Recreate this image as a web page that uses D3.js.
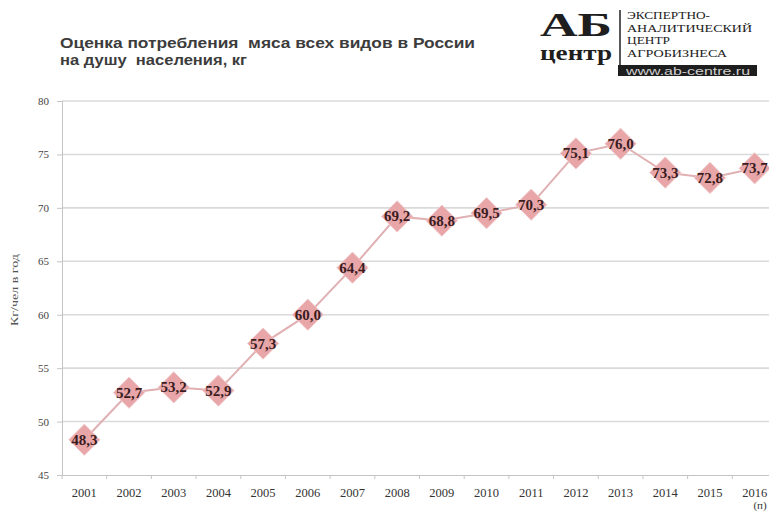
<!DOCTYPE html>
<html><head><meta charset="utf-8">
<script src="https://cdn.jsdelivr.net/npm/d3@7"></script>
<style>body{margin:0;background:#fff}svg{display:block}text{white-space:pre}</style>
</head><body>
<svg id="c" width="769" height="512"></svg>
<script>
const years = ["2001","2002","2003","2004","2005","2006","2007","2008","2009","2010","2011","2012","2013","2014","2015","2016"];
const values = [48.3,52.7,53.2,52.9,57.3,60.0,64.4,69.2,68.8,69.5,70.3,75.1,76.0,73.3,72.8,73.7];
const yTicks = [45,50,55,60,65,70,75,80];
const titleLines = ["Оценка потребления  мяса всех видов в России","на душу  населения, кг"];
const yLabel = "Кг/чел в год";
const logoLines = ["ЭКСПЕРТНО-","АНАЛИТИЧЕСКИЙ","ЦЕНТР","АГРОБИЗНЕСА"];

(function(){
const svg = d3.select("#c");
const mLeft = 62, mTop = 101, mBottom = 475, mRight = 777;
const x = d3.scaleBand().domain(years).range([mLeft, mRight]);
const y = d3.scaleLinear().domain([45, 80]).range([mBottom, mTop]);
const cx = d => x(d) + x.bandwidth()/2;

// gridlines
svg.append("g").selectAll("line").data(yTicks.slice(1)).join("line")
  .attr("x1", mLeft).attr("x2", 769).attr("y1", d=>y(d)).attr("y2", d=>y(d))
  .attr("stroke", "#dadada").attr("stroke-width", 1.6);

// y axis
const ya = svg.append("g").attr("transform", `translate(${mLeft},0)`)
  .call(d3.axisLeft(y).tickValues(yTicks).tickSize(5).tickPadding(8).tickFormat(d3.format("d")));
ya.select(".domain").attr("stroke", "#c4c4c4");
ya.selectAll(".tick line").attr("stroke", "#c4c4c4");
ya.selectAll("text").attr("font-family", "Liberation Serif").attr("font-size", 11).attr("fill", "#444");

// x axis
const xa = svg.append("g").attr("transform", `translate(0,${mBottom})`)
  .call(d3.axisBottom(x).tickSize(4).tickSizeOuter(0));
xa.select(".domain").attr("stroke", "#c4c4c4");
xa.selectAll(".tick line").attr("stroke", "#c4c4c4").attr("transform", `translate(${-x.bandwidth()/2},0)`);
xa.selectAll("text").attr("font-family", "Liberation Serif").attr("font-size", 12.5).attr("fill", "#333").attr("y", 22).attr("dy", 0);
xa.selectAll(".tick").filter(d => d === "2016").append("text")
  .attr("y", 34).attr("x", 12).attr("text-anchor","end")
  .attr("font-family", "Liberation Serif").attr("font-size", 11).attr("fill", "#333").text("(п)");

// y label
svg.append("text").attr("transform", `translate(18,290) rotate(-90)`)
  .attr("text-anchor","middle").attr("font-family","Liberation Serif").attr("font-size",10).attr("fill","#555")
  .attr("textLength", 72).attr("lengthAdjust","spacingAndGlyphs")
  .text(yLabel);

// line
svg.append("path").datum(values)
  .attr("d", d3.line().x((d,i)=>cx(years[i])).y(d=>y(d)))
  .attr("fill","none").attr("stroke","#e0b0b2").attr("stroke-width",2);

// markers
svg.append("g").selectAll("path").data(values).join("path")
  .attr("transform", (d,i)=>`translate(${cx(years[i])},${y(d)})`)
  .attr("d", d3.symbol(d3.symbolDiamond2, 620)())
  .attr("fill", "#e8a6a9").attr("stroke","#f0c8ca").attr("stroke-width",1);

// labels
svg.append("g").selectAll("text").data(values).join("text")
  .attr("x", (d,i)=>cx(years[i])).attr("y", d=>y(d)+5)
  .attr("text-anchor","middle").attr("font-family","Liberation Serif").attr("font-weight","bold")
  .attr("font-size",15).attr("fill","#3b1c21")
  .text(d=>d3.format(".1f")(d).replace(".", ","));

// title
const tLens = [415, 187];
svg.append("g").selectAll("text").data(titleLines).join("text")
  .attr("x", 60).attr("y",(d,i)=>48+i*17)
  .attr("font-family","Liberation Sans").attr("font-weight","bold").attr("font-size",14).attr("fill","#3c3c3c")
  .attr("textLength",(d,i)=>tLens[i]).attr("lengthAdjust","spacingAndGlyphs")
  .text(d=>d);

// logo
const lg = svg.append("g");
lg.append("text").attr("x",540).attr("y",36)
  .attr("font-family","Liberation Serif").attr("font-weight","bold").attr("font-size",34).attr("fill","#1e1e1e")
  .attr("textLength",72).attr("lengthAdjust","spacingAndGlyphs").text("АБ");
lg.append("text").attr("x",540).attr("y",60)
  .attr("font-family","Liberation Serif").attr("font-weight","bold").attr("font-size",22).attr("fill","#1e1e1e")
  .attr("textLength",72).attr("lengthAdjust","spacingAndGlyphs").text("центр");
lg.append("line").attr("x1",620).attr("x2",620).attr("y1",10).attr("y2",66).attr("stroke","#222").attr("stroke-width",1.5);
const lLens = [83, 125, 43, 100];
lg.selectAll("text.l").data(logoLines).join("text").attr("class","l")
  .attr("x",627).attr("y",(d,i)=>19+i*12.7)
  .attr("font-family","Liberation Serif").attr("font-size",11).attr("fill","#222")
  .attr("textLength",(d,i)=>lLens[i]).attr("lengthAdjust","spacingAndGlyphs").text(d=>d);
lg.append("rect").attr("x",618).attr("y",65).attr("width",139).attr("height",11).attr("fill","#1e1e1e");
lg.append("text").attr("x",626).attr("y",74.5)
  .attr("font-family","Liberation Sans").attr("font-size",10).attr("fill","#cfcfcf")
  .attr("textLength",124).attr("lengthAdjust","spacingAndGlyphs").text("www.ab-centre.ru");
})();
</script>
</body></html>
